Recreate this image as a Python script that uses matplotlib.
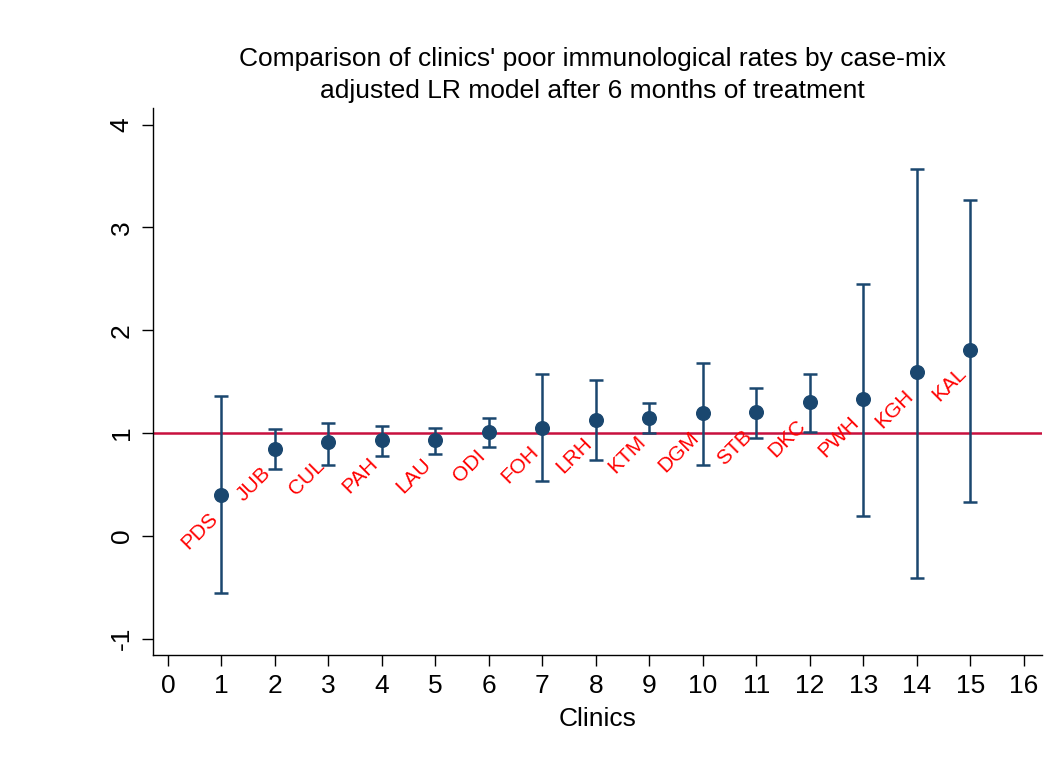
#!/usr/bin/env python

"""
Case-mix adjusted LR model: poor immunological rate ratio per clinic
after 6 months of treatment, with 95% intervals.
"""

import matplotlib
matplotlib.use("Agg")
import matplotlib.pyplot as plt

# clinic rank, code and estimate with its interval
clinic_rank = [1, 2, 3, 4, 5, 6, 7, 8, 9, 10, 11, 12, 13, 14, 15]
clinic_code = ["PDS", "JUB", "CUL", "PAH", "LAU", "ODI", "FOH", "LRH",
               "KTM", "DGM", "STB", "DKC", "PWH", "KGH", "KAL"]
estimate = [0.40, 0.84, 0.91, 0.93, 0.93, 1.01, 1.05, 1.13,
            1.15, 1.19, 1.20, 1.30, 1.33, 1.59, 1.81]
ci_lower = [-0.56, 0.65, 0.69, 0.78, 0.80, 0.86, 0.53, 0.74,
            1.00, 0.69, 0.95, 1.01, 0.19, -0.41, 0.33]
ci_upper = [1.36, 1.04, 1.10, 1.07, 1.05, 1.15, 1.57, 1.52,
            1.29, 1.68, 1.44, 1.57, 2.45, 3.57, 3.27]

x_ticks = list(range(0, 17))
y_ticks = [-1, 0, 1, 2, 3, 4]
REFERENCE = 1.0

NAVY = "#1a476f"
CRANBERRY = "#c8103e"
TITLE = ("Comparison of clinics' poor immunological rates by case-mix\n"
         "adjusted LR model after 6 months of treatment")

plt.rcParams["font.family"] = ["Liberation Sans", "DejaVu Sans"]

fig = plt.figure(figsize=(10.57, 7.67), dpi=100)
ax = fig.add_axes([0.1447, 0.146, 0.8411, 0.713])

ax.axhline(REFERENCE, color=CRANBERRY, lw=1.8, zorder=1)

err_low = [e - lo for e, lo in zip(estimate, ci_lower)]
err_high = [hi - e for e, hi in zip(estimate, ci_upper)]
ax.errorbar(clinic_rank, estimate, yerr=[err_low, err_high],
            fmt="o", color=NAVY, ms=9.8, elinewidth=1.8,
            capsize=4.8, capthick=1.8, zorder=3)

# clinic codes at 45 degrees, below-left of each point
for x, y, code in zip(clinic_rank, estimate, clinic_code):
    ax.annotate(code, (x, y), xytext=(-5.0, -15.0),
                textcoords="offset points", color="red", fontsize=15,
                rotation=45, rotation_mode="anchor",
                ha="right", va="center", zorder=4)

ax.set_xlim(-0.28, 16.34)
ax.set_ylim(-1.16, 4.16)
ax.set_xticks(x_ticks)
ax.set_yticks(y_ticks)
ax.set_yticklabels([str(v) for v in y_ticks], rotation=90, va="center")
ax.tick_params(axis="both", direction="out", length=8, width=1,
               labelsize=19, pad=6)
ax.set_xlabel("Clinics", fontsize=19, labelpad=6)
ax.set_title(TITLE, fontsize=19, pad=7, linespacing=1.45, x=0.494)

for side in ("top", "right"):
    ax.spines[side].set_visible(False)
for side in ("left", "bottom"):
    ax.spines[side].set_linewidth(1.0)

fig.savefig("out.png", dpi=100, facecolor="white")
